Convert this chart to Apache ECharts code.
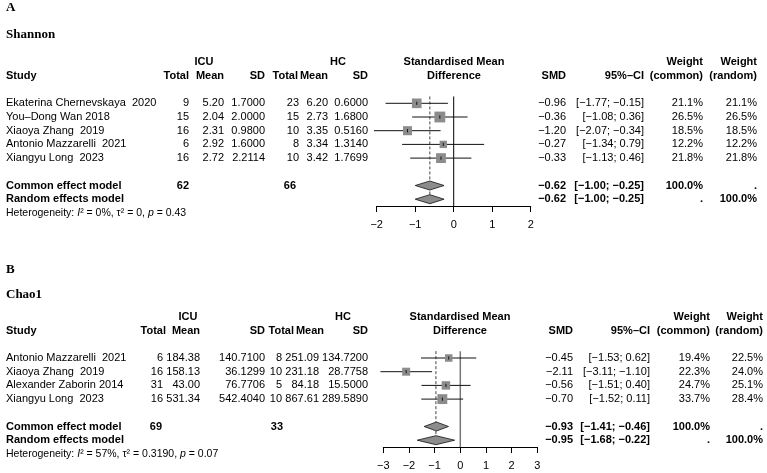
<!DOCTYPE html>
<html>
<head>
<meta charset="utf-8">
<title>Forest plots: Shannon and Chao1</title>
<script src="https://cdn.jsdelivr.net/npm/echarts@6/dist/echarts.min.js"></script>
<style>
  html, body { margin: 0; padding: 0; background: #fff; }
  #chart { width: 767px; height: 473px; }
</style>
</head>
<body>
<div id="chart"></div>
<script>
// ---------- Panel A: Shannon ----------
const studiesA = ['Ekaterina Chernevskaya  2020', 'You\u2013Dong Wan 2018', 'Xiaoya Zhang  2019', 'Antonio Mazzarelli  2021', 'Xiangyu Long  2023'];
const icuTotalA = [9, 15, 16, 6, 16];
const icuMeanA = [5.20, 2.04, 2.31, 2.92, 2.72];
const icuSdA = [1.7000, 2.0000, 0.9800, 1.6000, 2.2114];
const hcTotalA = [23, 15, 10, 8, 10];
const hcMeanA = [6.20, 2.73, 3.35, 3.34, 3.42];
const hcSdA = [0.6000, 1.6800, 0.5160, 1.3140, 1.7699];
const smdA = [-0.96, -0.36, -1.20, -0.27, -0.33];
const lowerA = [-1.77, -1.08, -2.07, -1.34, -1.13];
const upperA = [-0.15, 0.36, -0.34, 0.79, 0.46];
const wCommonA = [21.1, 26.5, 18.5, 12.2, 21.8];
const wRandomA = [21.1, 26.5, 18.5, 12.2, 21.8];
const pooledEstA = [-0.62, -0.62];   // common, random
const pooledLoA = [-1.00, -1.00];
const pooledHiA = [-0.25, -0.25];
const totalsA = [62, 66];
const hetA = ['0%', '0', '0.43'];
const ticksA = [-2, -1, 0, 1, 2];

// ---------- Panel B: Chao1 ----------
const studiesB = ['Antonio Mazzarelli  2021', 'Xiaoya Zhang  2019', 'Alexander Zaborin 2014', 'Xiangyu Long  2023'];
const icuTotalB = [6, 16, 31, 16];
const icuMeanB = [184.38, 158.13, 43.00, 531.34];
const icuSdB = [140.7100, 36.1299, 76.7706, 542.4040];
const hcTotalB = [8, 10, 5, 10];
const hcMeanB = [251.09, 231.18, 84.18, 867.61];
const hcSdB = [134.7200, 28.7758, 15.5000, 289.5890];
const smdB = [-0.45, -2.11, -0.56, -0.70];
const lowerB = [-1.53, -3.11, -1.51, -1.52];
const upperB = [0.62, -1.10, 0.40, 0.11];
const wCommonB = [19.4, 22.3, 24.7, 33.7];
const wRandomB = [22.5, 24.0, 25.1, 28.4];
const pooledEstB = [-0.93, -0.95];
const pooledLoB = [-1.41, -1.68];
const pooledHiB = [-0.46, -0.22];
const totalsB = [69, 33];
const hetB = ['57%', '0.3190', '0.07'];
const ticksB = [-3, -2, -1, 0, 1, 2, 3];

const SANS = '"Liberation Sans", Arial, Helvetica, sans-serif';
const SERIF = '"Liberation Serif", "Times New Roman", serif';

// column positions (px) for the table of each panel; head* = header positions
const layoutA = { study: 6, icuTotal: 189, icuMean: 224, icuSd: 265, hcTotal: 299, hcMean: 328, hcSd: 368,
  headIcuTotal: 189, headHcTotal: 298, headHcMean: 328,
  icuHead: 204, hcHead: 338, mid: 454, smd: 566, ci: 644, wCommon: 703, wRandom: 757,
  poolIcu: 189, poolHc: 296, sq: 21 };
const layoutB = { study: 6, icuTotal: 163, icuMean: 200, icuSd: 265, hcTotal: 282, hcMean: 319, hcSd: 368,
  headIcuTotal: 166, headHcTotal: 294, headHcMean: 324,
  icuHead: 188, hcHead: 343, mid: 460, smd: 573, ci: 650, wCommon: 710, wRandom: 763,
  poolIcu: 162, poolHc: 283, sq: 17 };

function num(v, d) {
  return (v < 0 ? '\u2212' : '') + Math.abs(v).toFixed(d);
}
function ci(lo, hi) {
  return '[' + num(lo, 2) + '; ' + num(hi, 2) + ']';
}

function buildRows(p, L) {
  const n = p.studies.length;
  const rows = [];
  rows.push({ row: -3, bold: true, cells: [
    ['ICU', L.icuHead, 'center'], ['HC', L.hcHead, 'center'], ['Standardised Mean', L.mid, 'center'],
    ['Weight', L.wCommon, 'right'], ['Weight', L.wRandom, 'right']] });
  rows.push({ row: -2, bold: true, cells: [
    ['Study', L.study, 'left'], ['Total', L.headIcuTotal, 'right'], ['Mean', L.icuMean, 'right'], ['SD', L.icuSd, 'right'],
    ['Total', L.headHcTotal, 'right'], ['Mean', L.headHcMean, 'right'], ['SD', L.hcSd, 'right'],
    ['Difference', L.mid, 'center'], ['SMD', L.smd, 'right'], ['95%\u2013CI', L.ci, 'right'],
    ['(common)', L.wCommon, 'right'], ['(random)', L.wRandom, 'right']] });
  for (let i = 0; i < n; i++) {
    rows.push({ row: i, bold: false, cells: [
      [p.studies[i], L.study, 'left'],
      [String(p.icuTotal[i]), L.icuTotal, 'right'], [p.icuMean[i].toFixed(2), L.icuMean, 'right'], [p.icuSd[i].toFixed(4), L.icuSd, 'right'],
      [String(p.hcTotal[i]), L.hcTotal, 'right'], [p.hcMean[i].toFixed(2), L.hcMean, 'right'], [p.hcSd[i].toFixed(4), L.hcSd, 'right'],
      [num(p.smd[i], 2), L.smd, 'right'], [ci(p.lower[i], p.upper[i]), L.ci, 'right'],
      [p.wCommon[i].toFixed(1) + '%', L.wCommon, 'right'], [p.wRandom[i].toFixed(1) + '%', L.wRandom, 'right']] });
  }
  rows.push({ row: n + 1, bold: true, cells: [
    ['Common effect model', L.study, 'left'], [String(p.totals[0]), L.poolIcu, 'right'], [String(p.totals[1]), L.poolHc, 'right'],
    [num(p.pEst[0], 2), L.smd, 'right'], [ci(p.pLo[0], p.pHi[0]), L.ci, 'right'],
    ['100.0%', L.wCommon, 'right'], ['.', L.wRandom, 'right']] });
  rows.push({ row: n + 2, bold: true, cells: [
    ['Random effects model', L.study, 'left'],
    [num(p.pEst[1], 2), L.smd, 'right'], [ci(p.pLo[1], p.pHi[1]), L.ci, 'right'],
    ['.', L.wCommon, 'right'], ['100.0%', L.wRandom, 'right']] });
  rows.push({ row: n + 3, het: true, cells: [
    ['{n|Heterogeneity: }{i|I}{n|\u00b2 = ' + p.het[0] + ', \u03c4\u00b2 = ' + p.het[1] + ', }{i|p}{n| = ' + p.het[2] + '}', L.study, 'left']] });
  return rows;
}

function tableSeries(gi, rows) {
  return {
    type: 'custom', xAxisIndex: gi, yAxisIndex: gi, clip: false, silent: true, z: 5,
    data: rows.map((r, k) => [0, r.row, k]),
    encode: { x: 0, y: 1 },
    renderItem: (params, api) => {
      const r = rows[api.value(2)];
      const y = api.coord([0, api.value(1)])[1];
      return {
        type: 'group',
        children: r.cells.map(c => ({
          type: 'text', x: c[1], y: y,
          style: {
            text: c[0], align: c[2], verticalAlign: 'middle',
            textAlign: c[2], textVerticalAlign: 'middle',
            fill: '#000',
            font: (r.bold ? 'bold ' : '') + '11px ' + SANS,
            rich: r.het ? {
              n: { fontSize: 10.5, fontFamily: SANS, fill: '#000' },
              i: { fontSize: 10.5, fontFamily: SANS, fontStyle: 'italic', fill: '#000' }
            } : undefined
          }
        }))
      };
    }
  };
}

function studySeries(gi, p, sq) {
  return {
    type: 'custom', xAxisIndex: gi, yAxisIndex: gi, clip: false, silent: true, z: 4,
    data: p.smd.map((v, i) => [v, i, p.lower[i], p.upper[i], p.wCommon[i]]),
    encode: { x: 0, y: 1 },
    renderItem: (params, api) => {
      const c = api.coord([api.value(0), api.value(1)]);
      const a = api.coord([api.value(2), api.value(1)]);
      const b = api.coord([api.value(3), api.value(1)]);
      const s = sq * Math.sqrt(api.value(4) / 100);
      return {
        type: 'group',
        children: [
          { type: 'line', shape: { x1: a[0], y1: a[1], x2: b[0], y2: b[1] }, style: { stroke: '#111', lineWidth: 1 } },
          { type: 'rect', shape: { x: c[0] - s / 2, y: c[1] - s / 2, width: s, height: s }, style: { fill: '#8c8c8c' } },
          { type: 'line', shape: { x1: c[0], y1: c[1] - 1.6, x2: c[0], y2: c[1] + 1.6 }, style: { stroke: '#111', lineWidth: 1 } }
        ]
      };
    }
  };
}

function diamondSeries(gi, p) {
  const n = p.studies.length;
  return {
    type: 'custom', xAxisIndex: gi, yAxisIndex: gi, clip: false, silent: true, z: 4,
    data: p.pEst.map((v, i) => [v, n + 1 + i, p.pLo[i], p.pHi[i]]),
    encode: { x: 0, y: 1 },
    renderItem: (params, api) => {
      const c = api.coord([api.value(0), api.value(1)]);
      const a = api.coord([api.value(2), api.value(1)]);
      const b = api.coord([api.value(3), api.value(1)]);
      const h = 4.5;
      return {
        type: 'polygon',
        shape: { points: [[a[0], c[1]], [c[0], c[1] - h], [b[0], c[1]], [c[0], c[1] + h]] },
        style: { fill: '#8c8c8c', stroke: '#111', lineWidth: 0.8 }
      };
    }
  };
}

function refLines(gi, p, yMax, zeroColor, zeroWidth) {
  const n = p.studies.length;
  return [
    { type: 'line', xAxisIndex: gi, yAxisIndex: gi, data: [[0, -0.5], [0, yMax]], symbol: 'none', silent: true, z: 2,
      lineStyle: { color: zeroColor, width: zeroWidth } },
    { type: 'line', xAxisIndex: gi, yAxisIndex: gi, data: [[p.pEst[1], -0.5], [p.pEst[1], n + 2]], symbol: 'none', silent: true, z: 2,
      lineStyle: { color: '#444', width: 1, type: [3, 2] } }
  ];
}

function forestAxis(gi, ticks) {
  return {
    type: 'value', gridIndex: gi, min: ticks[0], max: ticks[ticks.length - 1], interval: 1, position: 'bottom',
    axisLine: { show: true, onZero: false, lineStyle: { color: '#000', width: 1 } },
    axisTick: { show: true, inside: false, length: 6, lineStyle: { color: '#000', width: 1 } },
    axisLabel: { color: '#000', fontSize: 11, fontFamily: SANS, margin: 13,
      formatter: v => (v < 0 ? '\u2212' + (-v) : String(v)) },
    splitLine: { show: false }
  };
}

const panelA = { studies: studiesA, icuTotal: icuTotalA, icuMean: icuMeanA, icuSd: icuSdA, hcTotal: hcTotalA, hcMean: hcMeanA, hcSd: hcSdA,
  smd: smdA, lower: lowerA, upper: upperA, wCommon: wCommonA, wRandom: wRandomA,
  pEst: pooledEstA, pLo: pooledLoA, pHi: pooledHiA, totals: totalsA, het: hetA };
const panelB = { studies: studiesB, icuTotal: icuTotalB, icuMean: icuMeanB, icuSd: icuSdB, hcTotal: hcTotalB, hcMean: hcMeanB, hcSd: hcSdB,
  smd: smdB, lower: lowerB, upper: upperB, wCommon: wCommonB, wRandom: wRandomB,
  pEst: pooledEstB, pLo: pooledLoB, pHi: pooledHiB, totals: totalsB, het: hetB };

const yMaxA = 7.5, yMaxB = 6.5;
const chart = echarts.init(document.getElementById('chart'));

const titleStyle = { fontFamily: SERIF, fontWeight: 'bold', fontSize: 13, color: '#000' };
const option = {
  animation: false,
  backgroundColor: '#fff',
  title: [
    { text: 'A', left: 6, top: 1, padding: 0, textStyle: titleStyle },
    { text: 'Shannon', left: 6, top: 28, padding: 0, textStyle: titleStyle },
    { text: 'B', left: 6, top: 263, padding: 0, textStyle: titleStyle },
    { text: 'Chao1', left: 6, top: 288, padding: 0, textStyle: titleStyle }
  ],
  grid: [
    { left: 376.7, top: 96.45, width: 154, height: 13.7 * (yMaxA + 0.5), containLabel: false, outerBoundsMode: 'none' },
    { left: 383.3, top: 351.15, width: 154, height: 13.7 * (yMaxB + 0.5), containLabel: false, outerBoundsMode: 'none' }
  ],
  xAxis: [forestAxis(0, ticksA), forestAxis(1, ticksB)],
  yAxis: [
    { type: 'value', gridIndex: 0, inverse: true, min: -0.5, max: yMaxA, show: false },
    { type: 'value', gridIndex: 1, inverse: true, min: -0.5, max: yMaxB, show: false }
  ],
  series: [
    ...refLines(0, panelA, yMaxA, '#000', 1),
    ...refLines(1, panelB, yMaxB, '#777', 1.5),
    studySeries(0, panelA, layoutA.sq),
    studySeries(1, panelB, layoutB.sq),
    diamondSeries(0, panelA),
    diamondSeries(1, panelB),
    tableSeries(0, buildRows(panelA, layoutA)),
    tableSeries(1, buildRows(panelB, layoutB))
  ]
};

chart.setOption(option);
</script>
</body>
</html>
